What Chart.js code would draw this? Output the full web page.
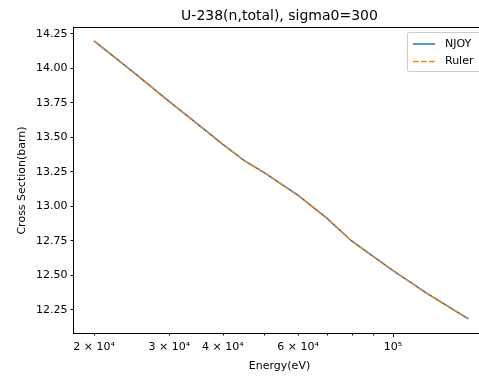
<!DOCTYPE html>
<html>
<head>
<meta charset="utf-8">
<script src="https://cdn.jsdelivr.net/npm/chart.js@4.4.0/dist/chart.umd.min.js"></script>
<style>
  html, body { margin: 0; padding: 0; overflow: hidden; background: #fff; }
  #wrap { width: 479px; height: 376px; overflow: hidden; }
</style>
</head>
<body>
<div id="wrap"><canvas id="grafico" width="500" height="376"></canvas></div>
<script>
// datos
const energias = [20000, 25000, 30000, 35000, 40000, 45000, 50000, 60000, 70000, 80000, 90000, 100000, 120000, 150000];
const njoy  = [14.20, 13.96, 13.76, 13.595, 13.45, 13.33, 13.245, 13.08, 12.915, 12.75, 12.636, 12.535, 12.37, 12.185];
const ruler = [14.20, 13.96, 13.76, 13.595, 13.45, 13.33, 13.245, 13.08, 12.915, 12.75, 12.636, 12.535, 12.37, 12.185];

const xTicks = [20000, 30000, 40000, 50000, 60000, 70000, 80000, 90000, 100000];
const xTickLabels = ['2 × 10⁴', '3 × 10⁴', '4 × 10⁴', '', '6 × 10⁴', '', '', '', '10⁵'];
const yTicks = [12.25, 12.5, 12.75, 13.0, 13.25, 13.5, 13.75, 14.0, 14.25];

const colores = { njoy: '#1f77b4', ruler: '#ff7f0e', texto: '#000000' };
const FUENTE = "'DejaVu Sans', sans-serif";

Chart.defaults.font.family = FUENTE;
Chart.defaults.font.size = 11;
Chart.defaults.color = colores.texto;

// titulo, etiquetas, marco, marcas y leyenda al estilo matplotlib
const decoracion = {
    id: 'decoracion',
    afterDraw: (chart) => {
        const { ctx, chartArea: { left, right, top, bottom } } = chart;
        const xs = chart.scales.x;
        ctx.save();

        // marco
        ctx.strokeStyle = '#000';
        ctx.lineWidth = 1;
        ctx.strokeRect(Math.round(left) - 0.5, Math.round(top) - 0.5, Math.round(right - left) + 1, Math.round(bottom - top) + 1);

        // marcas del eje x
        xTicks.forEach(v => {
            const px = Math.round(xs.getPixelForValue(v)) + 0.5;
            const len = v === 100000 ? 3.5 : 2;
            ctx.beginPath();
            ctx.moveTo(px, bottom + 0.5);
            ctx.lineTo(px, bottom + 0.5 + len);
            ctx.stroke();
        });

        // titulo
        ctx.fillStyle = colores.texto;
        ctx.textAlign = 'center';
        ctx.textBaseline = 'middle';
        ctx.font = `14px ${FUENTE}`;
        ctx.fillText('U-238(n,total), sigma0=300', (left + right) / 2, 16);

        // ejes
        ctx.font = `11px ${FUENTE}`;
        ctx.fillText('Energy(eV)', (left + right) / 2, 366);
        ctx.save();
        ctx.translate(22, (top + bottom) / 2);
        ctx.rotate(-Math.PI / 2);
        ctx.fillText('Cross Section(barn)', 0, 0);
        ctx.restore();

        // leyenda
        const lx = 407.5, ly = 32.5, lw = 78, lh = 39;
        ctx.fillStyle = 'rgba(255,255,255,0.8)';
        ctx.strokeStyle = '#cccccc';
        ctx.beginPath();
        ctx.roundRect(lx, ly, lw, lh, 2);
        ctx.fill();
        ctx.stroke();

        const items = [
            { texto: 'NJOY', color: colores.njoy, dash: [], y: 44 },
            { texto: 'Ruler', color: colores.ruler, dash: [5.5, 2.5], y: 61.5 }
        ];
        items.forEach(it => {
            ctx.strokeStyle = it.color;
            ctx.lineWidth = 1.5;
            ctx.setLineDash(it.dash);
            ctx.beginPath();
            ctx.moveTo(413, it.y);
            ctx.lineTo(435, it.y);
            ctx.stroke();
            ctx.setLineDash([]);
            ctx.fillStyle = colores.texto;
            ctx.textAlign = 'left';
            ctx.fillText(it.texto, 445, it.y);
        });

        ctx.restore();
    }
};

new Chart(document.getElementById('grafico'), {
    type: 'line',
    data: {
        datasets: [
            {
                label: 'NJOY',
                data: energias.map((e, i) => ({ x: e, y: njoy[i] })),
                borderColor: colores.njoy,
                borderWidth: 1.5,
                pointRadius: 0,
                tension: 0,
                order: 1
            },
            {
                label: 'Ruler',
                data: energias.map((e, i) => ({ x: e, y: ruler[i] })),
                borderColor: colores.ruler,
                borderWidth: 1.5,
                borderDash: [5.5, 2.5],
                pointRadius: 0,
                tension: 0,
                order: 0
            }
        ]
    },
    options: {
        responsive: false,
        devicePixelRatio: 1,
        animation: false,
        layout: { padding: { left: 0, right: 15, top: 28, bottom: 0 } },
        plugins: {
            legend: { display: false },
            title: { display: false },
            tooltip: { enabled: false }
        },
        scales: {
            x: {
                type: 'logarithmic',
                min: 17960,
                max: 164000,
                afterBuildTicks: (scale) => { scale.ticks = xTicks.map(v => ({ value: v })); },
                afterFit: (scale) => { scale.height = 43; },
                ticks: {
                    autoSkip: false,
                    maxRotation: 0,
                    padding: 4,
                    color: colores.texto,
                    font: { size: 11 },
                    callback: (value) => {
                        const i = xTicks.indexOf(value);
                        return i >= 0 ? xTickLabels[i] : '';
                    }
                },
                grid: { display: false, drawTicks: true, tickLength: 3.5 },
                border: { display: false }
            },
            y: {
                type: 'linear',
                min: 12.083,
                max: 14.293,
                afterBuildTicks: (scale) => { scale.ticks = yTicks.map(v => ({ value: v })); },
                afterFit: (scale) => { scale.width = 74; },
                ticks: {
                    autoSkip: false,
                    padding: 3,
                    color: colores.texto,
                    font: { size: 11 },
                    callback: (value) => value.toFixed(2)
                },
                grid: {
                    drawOnChartArea: false,
                    drawTicks: true,
                    tickLength: 3.5,
                    tickColor: '#000',
                    tickWidth: 1
                },
                border: { display: false }
            }
        }
    },
    plugins: [decoracion]
});
</script>
</body>
</html>
